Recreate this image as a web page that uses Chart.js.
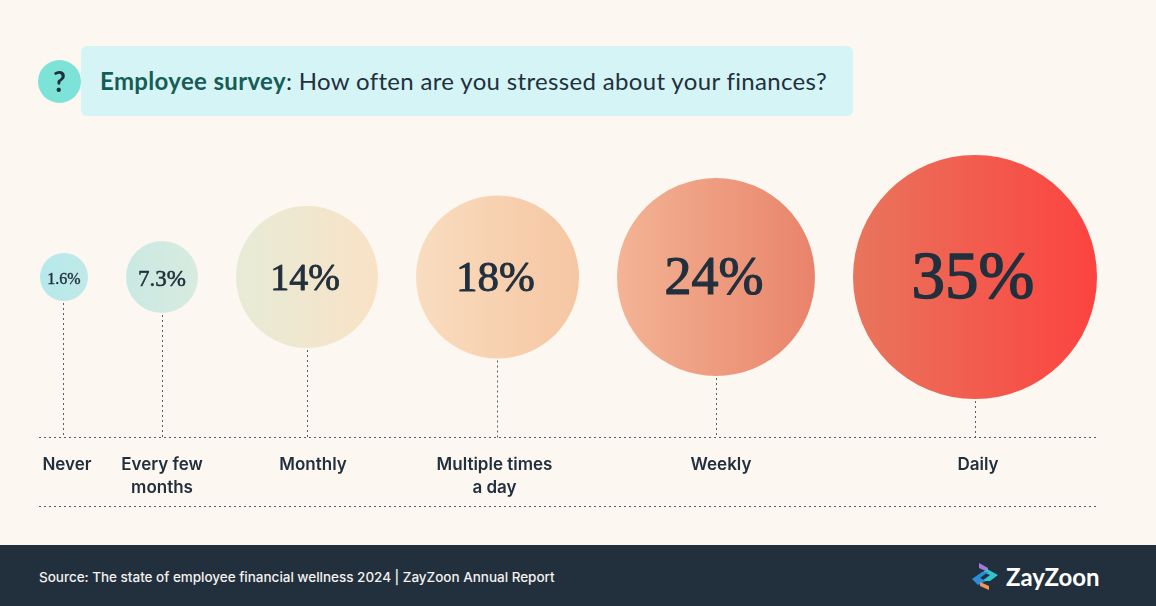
<!DOCTYPE html>
<html>
<head>
<meta charset="utf-8">
<script src="https://cdn.jsdelivr.net/npm/chart.js@4/dist/chart.umd.js"></script>
<style>
    html, body { margin: 0; padding: 0; background: #fdf7f2; }
    #page { position: relative; width: 1156px; height: 606px; overflow: hidden; background: #fdf7f2; }
    #chartWrap { position: absolute; left: 0; top: 0; width: 1156px; height: 545px; }
    #badge { position: absolute; left: 38px; top: 60px; width: 43px; height: 43px; border-radius: 50%; background: #7de3d8;
        color: #22303e; font: 700 28px/43px Lato, sans-serif; text-align: center; }
    #banner { position: absolute; left: 81px; top: 46px; width: 772px; height: 70px; border-radius: 6px; background: #d5f4f5; }
    #bannerText { position: absolute; left: 19px; top: 0; font: 400 24px/70px Lato, sans-serif; letter-spacing: 0.34px;
        color: #22303e; white-space: nowrap; }
    #bannerText b { font-weight: 700; color: #155d56; }
    #footer { position: absolute; left: 0; top: 545px; width: 1156px; height: 61px; background: #22303e; }
    #source { position: absolute; left: 39px; top: 0; font: 500 13.5px/64px Inter, sans-serif; letter-spacing: -0.02px; color: #f4f2ee; white-space: nowrap; }
    #logoText { position: absolute; left: 1006px; top: 0; font: 700 24px/63px Lato, sans-serif; color: #fff; white-space: nowrap; }
    #logo { position: absolute; left: 970px; top: 16px; }
</style>
</head>
<body>
<div id="page">
    <div id="chartWrap"><canvas id="surveyChart" width="1156" height="545"></canvas></div>
    <div id="badge">?</div>
    <div id="banner"><div id="bannerText"><b>Employee survey</b>: How often are you stressed about your finances?</div></div>
    <div id="footer">
        <div id="source">Source: The state of employee financial wellness 2024 | ZayZoon Annual Report</div>
        <svg id="logo" width="30" height="30" viewBox="0 0 30 30">
            <polygon points="9,2 18,7 18,11 9,7" fill="#a678dc"/>
            <polygon points="17,8 28,14 20,20 12,20 20,14 13,11" fill="#2fc4d0"/>
            <polygon points="2,18 12,11 18,11 10,17 16,20 8,24" fill="#2a8fd8"/>
            <polygon points="10,21 19,25 19,29 10,25" fill="#f0965a"/>
        </svg>
        <div id="logoText">ZayZoon</div>
    </div>
</div>
<script>
// survey answers, least to most frequent
var categories = [['Never'], ['Every few', 'months'], ['Monthly'], ['Multiple times', 'a day'], ['Weekly'], ['Daily']];
var shares = [1.6, 7.3, 14, 18, 24, 35];

// drawing sizes, not data
var bubbleRadius = [24, 36, 71, 81.5, 99, 122];
var valueFontSize = [16, 23, 38, 43, 54, 67];
var labelNudge = [3, 0, 6, -3, 5, 3];
var bubbleGap = 38;
var axisSpan = 1058;
var rowHeight = 161;

// bubbles sit side by side with an even gap
var centers = [];
var edge = 1;
shares.forEach(function(v, i) {
    centers.push(edge + bubbleRadius[i]);
    edge += bubbleRadius[i] * 2 + bubbleGap;
});

var bubbles = shares.map(function(v, i) {
    return { x: centers[i], y: rowHeight, r: bubbleRadius[i] };
});

// one gradient runs across the whole row
function rowGradient(context) {
    var chart = context.chart;
    if (!chart.chartArea) return '#f3b393';
    var g = chart.ctx.createLinearGradient(chart.chartArea.left, 0, chart.chartArea.right, 0);
    g.addColorStop(0, '#b5e9ec');
    g.addColorStop(0.08, '#c9e9e3');
    g.addColorStop(0.15, '#d8ebdf');
    g.addColorStop(0.19, '#e7ebd6');
    g.addColorStop(0.32, '#f9e2c6');
    g.addColorStop(0.51, '#f6c6a2');
    g.addColorStop(0.55, '#f3b394');
    g.addColorStop(0.73, '#e9846b');
    g.addColorStop(0.77, '#e8755c');
    g.addColorStop(1, '#fc4340');
    return g;
}

function dottedLine(ctx, x1, y1, x2, y2) {
    ctx.beginPath();
    ctx.moveTo(x1, y1);
    ctx.lineTo(x2, y2);
    ctx.stroke();
}

var stemsAndLabels = {
    id: 'stemsAndLabels',
    beforeDatasetsDraw: function(chart) {
        var ctx = chart.ctx;
        var area = chart.chartArea;
        var points = chart.getDatasetMeta(0).data;
        ctx.save();
        ctx.strokeStyle = '#55606a';
        ctx.lineWidth = 1;
        ctx.setLineDash([2, 3]);
        points.forEach(function(p, i) {
            var x = Math.floor(p.x) - 0.5 + (i > 0 ? 1 : 0);
            dottedLine(ctx, x, p.y + bubbleRadius[i] + 2, x, area.bottom);
        });
        // baseline, and the closing rule under the labels
        dottedLine(ctx, area.left, area.bottom - 0.5, area.right, area.bottom - 0.5);
        dottedLine(ctx, area.left, 506.5, area.right, 506.5);
        ctx.restore();
    },
    afterDatasetsDraw: function(chart) {
        var ctx = chart.ctx;
        var points = chart.getDatasetMeta(0).data;
        ctx.save();
        ctx.fillStyle = '#22303e';
        ctx.strokeStyle = '#22303e';
        ctx.lineJoin = 'round';
        ctx.textAlign = 'center';
        ctx.textBaseline = 'middle';
        points.forEach(function(p, i) {
            var x = p.x - (i > 1 ? 2 : 0);
            ctx.font = '400 ' + valueFontSize[i] + 'px "Liberation Serif", serif';
            ctx.lineWidth = valueFontSize[i] / 45;
            ctx.fillText(shares[i] + '%', x, p.y + 3);
            ctx.strokeText(shares[i] + '%', x, p.y + 3);
        });
        ctx.restore();
    }
};

var surveyChart = new Chart(document.getElementById('surveyChart').getContext('2d'), {
    type: 'bubble',
    data: {
        datasets: [{
            data: bubbles,
            backgroundColor: rowGradient,
            hoverBackgroundColor: rowGradient,
            borderWidth: 0,
            clip: false
        }]
    },
    plugins: [stemsAndLabels],
    options: {
        responsive: false,
        animation: false,
        layout: { autoPadding: false, padding: { left: 39, right: 59, top: 140, bottom: 0 } },
        plugins: { legend: { display: false }, tooltip: { enabled: false } },
        scales: {
            x: {
                type: 'linear',
                min: 0,
                max: axisSpan,
                grid: { display: false, drawTicks: false },
                border: { display: false },
                afterFit: function(scale) {
                    scale.height = 107;
                    scale.paddingLeft = 0;
                    scale.paddingRight = 0;
                },
                afterBuildTicks: function(scale) {
                    scale.ticks = centers.map(function(c, i) { return { value: c + labelNudge[i] }; });
                },
                ticks: {
                    autoSkip: false,
                    maxRotation: 0,
                    padding: 15,
                    color: '#22303e',
                    font: { family: 'Inter', size: 17, weight: '600', lineHeight: 1.35 },
                    callback: function(value, index) { return categories[index]; }
                }
            },
            y: { display: false, min: 0, max: 298 }
        }
    }
});
</script>
</body>
</html>
